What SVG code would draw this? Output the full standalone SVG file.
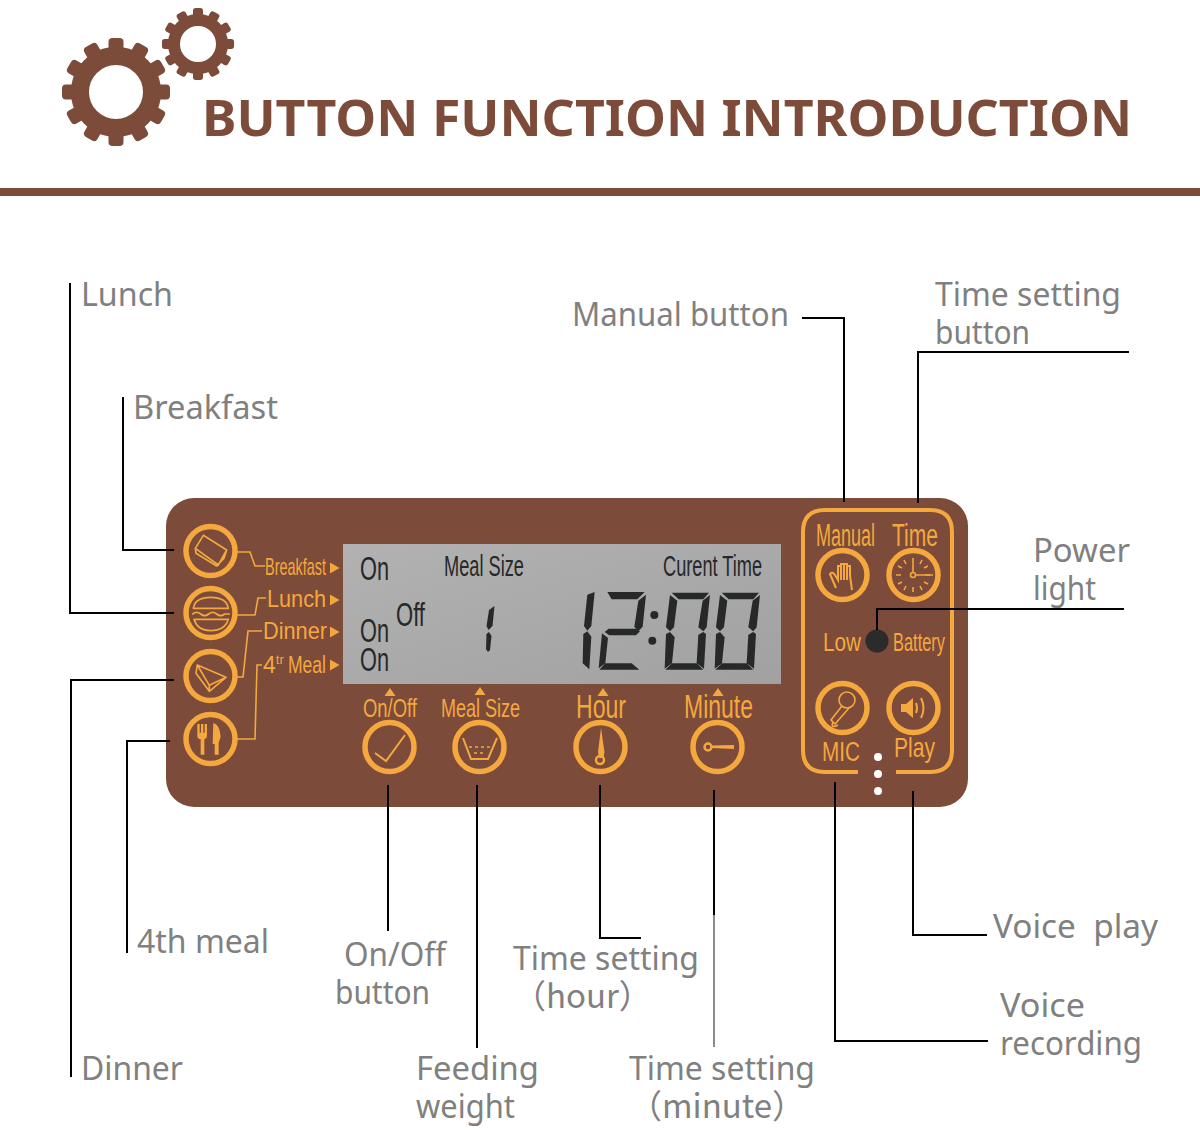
<svg xmlns="http://www.w3.org/2000/svg" xmlns:xlink="http://www.w3.org/1999/xlink" width="1200" height="1132" viewBox="0 0 1200 1132">
<style>
.lbl{font-family:"Noto Sans","Open Sans","Liberation Sans",sans-serif;font-size:33px;fill:#808080}
.ttl{font-family:"Noto Sans","Open Sans","Liberation Sans",sans-serif;font-size:51px;font-weight:700;fill:#7d4b39}
.o{font-family:"Liberation Sans",Arial,sans-serif;fill:#f4a83e}
.d{font-family:"Liberation Sans",Arial,sans-serif;fill:#26282a}
.c{fill:none;stroke:#000;stroke-width:2}
.r{fill:none;stroke:#f4a83e;stroke-width:5.500}
.t{fill:none;stroke:#f4a83e;stroke-width:1.600}
.i{fill:none;stroke:#f4a83e;stroke-width:5;stroke-linejoin:round;stroke-linecap:round}
.f{fill:#f4a83e}
.s{fill:#26282a}
</style>
<defs>
<linearGradient id="lcd" x1="0" y1="0" x2="1" y2="1"><stop offset="0" stop-color="#b2b2b2"/><stop offset="1" stop-color="#a1a1a1"/></linearGradient>
<g id="gear"><circle r="36" fill="none" stroke="#7d4b39" stroke-width="18"/>
<g id="tooth"><rect x="-7.500" y="-54" width="15" height="16" rx="4" fill="#7d4b39"/></g>
<use xlink:href="#tooth" transform="rotate(30)"/><use xlink:href="#tooth" transform="rotate(60)"/><use xlink:href="#tooth" transform="rotate(90)"/><use xlink:href="#tooth" transform="rotate(120)"/><use xlink:href="#tooth" transform="rotate(150)"/><use xlink:href="#tooth" transform="rotate(180)"/><use xlink:href="#tooth" transform="rotate(210)"/><use xlink:href="#tooth" transform="rotate(240)"/><use xlink:href="#tooth" transform="rotate(270)"/><use xlink:href="#tooth" transform="rotate(300)"/><use xlink:href="#tooth" transform="rotate(330)"/>
</g>
<g id="zero" class="s">
<polygon points="425,278 537,278 520,298 446,298"/>
<polygon points="420,285 442,302 432,382 420,394 408,382"/>
<polygon points="540,285 530,382 520,394 505,382 518,302"/>
<polygon points="408,402 420,396 434,412 426,490 404,506"/>
<polygon points="505,404 520,396 528,402 522,506 500,490"/>
<polygon points="426,490 500,490 520,509 406,509"/>
</g>
<polygon id="tri" class="f" points="0,-5.500 9.500,0 0,5.500"/>
<polygon id="up" class="f" points="-5.500,4 0,-4 5.500,4"/>
</defs>
<rect width="1200" height="1132" fill="#fff"/>
<g id="header">
<use xlink:href="#gear" transform="translate(116,92)"/>
<use xlink:href="#gear" transform="translate(198,44) scale(.667)"/>
<text class="ttl" x="202" y="136" textLength="930" lengthAdjust="spacingAndGlyphs">BUTTON FUNCTION INTRODUCTION</text>
<rect x="0" y="188" width="1200" height="8" fill="#7d4b39"/>
</g>
<g id="panel">
<rect x="166" y="498" width="802" height="309" rx="28" fill="#7d4b39"/>
<rect x="343" y="544" width="438" height="140" fill="url(#lcd)"/>
<path class="r" style="stroke-width:4" d="M858,772H825Q803,772 803,750V532Q803,510 825,510H930Q952,510 952,532V750Q952,772 930,772H896"/>
<circle cx="878" cy="757" r="4" fill="#fff"/><circle cx="878" cy="774" r="4" fill="#fff"/><circle cx="878" cy="791" r="4" fill="#fff"/>
</g>
<g id="lcd-display">
<text class="d" x="360" y="580" font-size="34" textLength="29" lengthAdjust="spacingAndGlyphs">On</text>
<text class="d" x="360" y="642" font-size="34" textLength="29" lengthAdjust="spacingAndGlyphs">On</text>
<text class="d" x="396" y="626" font-size="34" textLength="29" lengthAdjust="spacingAndGlyphs">Off</text>
<text class="d" x="360" y="671" font-size="34" textLength="29" lengthAdjust="spacingAndGlyphs">On</text>
<text class="d" x="444" y="576" font-size="29" textLength="80" lengthAdjust="spacingAndGlyphs">Meal Size</text>
<text class="d" x="663" y="576" font-size="29" textLength="99" lengthAdjust="spacingAndGlyphs">Curent Time</text>
<g class="s"><polygon points="489,610 494.500,606 492.500,626 488.500,630 486.500,626"/><polygon points="486.500,634 489,632 491.500,636 490,650 488,652 486,649"/></g>
<g transform="translate(530,500) scale(.3333)">
<g class="s">
<polygon points="172,284 194,276 184,378 172,392 162,378"/>
<polygon points="160,402 172,394 184,410 178,508 158,490"/>
<polygon points="232,276 344,276 322,298 245,298"/>
<polygon points="348,284 338,380 325,394 313,380 325,302"/>
<polygon points="236,386 318,386 330,394 318,406 238,406 224,396"/>
<polygon points="216,400 234,414 226,490 206,505"/>
<polygon points="226,490 305,490 328,509 208,509"/>
<circle cx="373" cy="345" r="12"/><circle cx="367" cy="422" r="12"/>
</g>
<use xlink:href="#zero"/>
<use xlink:href="#zero" transform="translate(150,0)"/>
</g>
</g>
<g id="meal-tags">
<path class="t" d="M237,552H250L255,566H265"/>
<path class="t" d="M237,615H255L258,598H266"/>
<path class="t" d="M237,677H243L248,631H262"/>
<path class="t" d="M237,739H255L257,665H262"/>
<text class="o" x="265" y="575" font-size="24" textLength="61" lengthAdjust="spacingAndGlyphs">Breakfast</text>
<text class="o" x="267" y="607" font-size="24" textLength="59" lengthAdjust="spacingAndGlyphs">Lunch</text>
<text class="o" x="263" y="639" font-size="24" textLength="64" lengthAdjust="spacingAndGlyphs">Dinner</text>
<text class="o" x="263" y="673" font-size="23"><tspan>4</tspan><tspan font-size="13" dy="-9">tr</tspan><tspan dy="9" x="288" textLength="38" lengthAdjust="spacingAndGlyphs">Meal</tspan></text>
<use xlink:href="#tri" x="330" y="568"/><use xlink:href="#tri" x="330" y="600"/><use xlink:href="#tri" x="330" y="632"/><use xlink:href="#tri" x="330" y="665"/>
</g>
<g id="btn-breakfast">
<circle class="r" cx="210.500" cy="551" r="24.500"/>
<g transform="translate(160,500) scale(.3333)"><path class="i" d="M106,145L130,106 200,150 175,195ZM175,195L200,150 192,175 172,195M106,145L108,160 170,198 175,195"/></g>
</g>
<g id="btn-lunch">
<circle class="r" cx="210.500" cy="613" r="24.500"/>
<g transform="translate(160,500) scale(.3333)"><path class="i" d="M100,325Q105,292 152,292Q200,292 205,325ZM98,342Q110,332 122,342T146,342T170,342T194,342L208,342M102,358H205Q195,392 152,392Q112,392 102,358Z"/></g>
</g>
<g id="btn-dinner">
<circle class="r" cx="210.500" cy="676" r="24.500"/>
<g transform="translate(160,500) scale(.3333)"><path class="i" d="M112,495L198,532 148,574 108,520ZM112,495L148,556 198,532M148,556V574"/></g>
</g>
<g id="btn-4th-meal">
<circle class="r" cx="210.500" cy="739" r="24.500"/>
<g transform="translate(160,500) scale(.3333)">
<path class="f" d="M112,672h7v26h4v-26h7v26h4v-26h7v36q0,8-8,10v46h-11v-46q-10-2-10-10zM160,668q20,6 22,42l-6,18v36h-12v-32h-6z"/>
</g>
</g>
<g id="btn-onoff">
<text class="o" x="363" y="717" font-size="26" textLength="54" lengthAdjust="spacingAndGlyphs">On/Off</text>
<use xlink:href="#up" x="390" y="692"/>
<circle class="r" cx="389.500" cy="747" r="24.500"/>
<path class="t" style="stroke-width:2" d="M375,753L386,761 405,735"/>
</g>
<g id="btn-mealsize">
<text class="o" x="441" y="717" font-size="26" textLength="79" lengthAdjust="spacingAndGlyphs">Meal Size</text>
<use xlink:href="#up" x="480" y="691"/>
<circle class="r" cx="479.500" cy="747" r="24.500"/>
<path class="t" style="stroke-width:2" d="M463,738L471,759H488L497,738"/>
<path class="t" stroke-dasharray="3 3" d="M469,747H491M474,753H486"/>
</g>
<g id="btn-hour">
<text class="o" x="576" y="718" font-size="34" textLength="50" lengthAdjust="spacingAndGlyphs">Hour</text>
<use xlink:href="#up" x="603" y="692"/>
<circle class="r" cx="600.500" cy="747" r="24.500"/>
<path class="f" d="M601,728l3.500,24 -1,6h-4.500l-1,-6z"/>
<circle class="t" style="stroke-width:2.500" cx="600" cy="760" r="4"/>
</g>
<g id="btn-minute">
<text class="o" x="684" y="718" font-size="34" textLength="69" lengthAdjust="spacingAndGlyphs">Minute</text>
<use xlink:href="#up" x="718" y="692"/>
<circle class="r" cx="717.500" cy="747" r="24.500"/>
<circle class="t" style="stroke-width:2.500" cx="708" cy="747" r="3.500"/>
<path class="f" d="M712,745.500l22,-.5v4l-22,-1z"/>
</g>
<g id="btn-manual">
<text class="o" x="816" y="546" font-size="31" textLength="59" lengthAdjust="spacingAndGlyphs">Manual</text>
<circle class="r" cx="842.500" cy="575" r="24.500"/>
<path class="t" style="stroke-width:2" d="M836,588L830,574Q832,571 835,575L838,580V566H841V580V564H844V580V564H847V580V566H850V576L852,590"/>
</g>
<g id="btn-time">
<text class="o" x="892" y="546" font-size="31" textLength="46" lengthAdjust="spacingAndGlyphs">Time</text>
<circle class="r" cx="913.500" cy="575" r="24.500"/>
<path class="t" d="M913,558v5M913,587v5M896,575h5M925,575h5M904,560l2,4M922,560l-2,4M898,566l4,2M898,584l4,-2M928,566l-4,2M928,584l-4,-2M904,590l2,-4M922,590l-2,-4"/>
<path class="t" d="M913,563V572M916,575H933"/><circle class="t" cx="913" cy="575" r="2.500"/>
</g>
<g id="power-light">
<text class="o" x="823" y="651" font-size="26" textLength="38" lengthAdjust="spacingAndGlyphs">Low</text>
<circle cx="877" cy="641" r="11.500" fill="#2b2b2b"/>
<text class="o" x="893" y="651" font-size="26" textLength="52" lengthAdjust="spacingAndGlyphs">Battery</text>
</g>
<g id="btn-mic">
<circle class="r" cx="842.500" cy="708" r="24.500"/>
<circle class="t" cx="847" cy="700" r="8"/>
<path class="t" d="M842,706L831,720 835,724 849,708M833,722Q830,729 838,725"/>
<text class="o" x="822" y="761" font-size="27" textLength="38" lengthAdjust="spacingAndGlyphs">MIC</text>
</g>
<g id="btn-play">
<circle class="r" cx="913.500" cy="708" r="24.500"/>
<path class="f" d="M901,704h5l7,-6v20l-7,-6h-5z"/>
<path class="t" style="stroke-width:2" d="M916,703q2,5 0,10M921,698q5,10 0,20"/>
<text class="o" x="894" y="757" font-size="28" textLength="41" lengthAdjust="spacingAndGlyphs">Play</text>
</g>
<g id="connectors">
<path class="c" d="M70,283V613H174"/>
<path class="c" d="M123,397V550H174"/>
<path class="c" d="M802,318H844V502"/>
<path class="c" d="M1129,352H918V503"/>
<path class="c" d="M1124,609H877V630"/>
<path class="c" d="M127,953V741H170"/>
<path class="c" d="M71,1077V680H174"/>
<path class="c" d="M388,785V931"/>
<path class="c" d="M477,785V1048"/>
<path class="c" d="M600,785V938H641"/>
<path class="c" d="M714,790V915"/>
<path d="M714,915V1047" fill="none" stroke="#8a8a8a" stroke-width="2"/>
<path class="c" d="M835,782V1041H988"/>
<path class="c" d="M913,791V935H987"/>
</g>
<g id="labels" transform="translate(-1,0)">
<text class="lbl" x="82" y="306" textLength="92" lengthAdjust="spacingAndGlyphs">Lunch</text>
<text class="lbl" x="134" y="419" textLength="145" lengthAdjust="spacingAndGlyphs">Breakfast</text>
<text class="lbl" x="573" y="326" textLength="217" lengthAdjust="spacingAndGlyphs">Manual button</text>
<text class="lbl" x="936" y="306" textLength="186" lengthAdjust="spacingAndGlyphs">Time setting</text>
<text class="lbl" x="936" y="344" textLength="95" lengthAdjust="spacingAndGlyphs">button</text>
<text class="lbl" x="1034" y="562" textLength="97" lengthAdjust="spacingAndGlyphs">Power</text>
<text class="lbl" x="1034" y="600" textLength="63" lengthAdjust="spacingAndGlyphs">light</text>
<text class="lbl" x="138" y="953" textLength="132" lengthAdjust="spacingAndGlyphs">4th meal</text>
<text class="lbl" x="345" y="966" textLength="102" lengthAdjust="spacingAndGlyphs">On/Off</text>
<text class="lbl" x="336" y="1004" textLength="95" lengthAdjust="spacingAndGlyphs">button</text>
<text class="lbl" x="514" y="970" textLength="186" lengthAdjust="spacingAndGlyphs">Time setting</text>
<text class="lbl" x="514" y="1008" style="font-family:'Noto Sans CJK SC','Noto Sans',sans-serif">（hour）</text>
<text class="lbl" x="417" y="1080" textLength="123" lengthAdjust="spacingAndGlyphs">Feeding</text>
<text class="lbl" x="417" y="1118" textLength="99" lengthAdjust="spacingAndGlyphs">weight</text>
<text class="lbl" x="82" y="1080" textLength="102" lengthAdjust="spacingAndGlyphs">Dinner</text>
<text class="lbl" x="630" y="1080" textLength="186" lengthAdjust="spacingAndGlyphs">Time setting</text>
<text class="lbl" x="630" y="1118" style="font-family:'Noto Sans CJK SC','Noto Sans',sans-serif">（minute）</text>
<text class="lbl" x="994" y="938" textLength="165" lengthAdjust="spacingAndGlyphs" xml:space="preserve">Voice  play</text>
<text class="lbl" x="1001" y="1017" textLength="85" lengthAdjust="spacingAndGlyphs">Voice</text>
<text class="lbl" x="1001" y="1055" textLength="142" lengthAdjust="spacingAndGlyphs">recording</text>
</g>
</svg>
